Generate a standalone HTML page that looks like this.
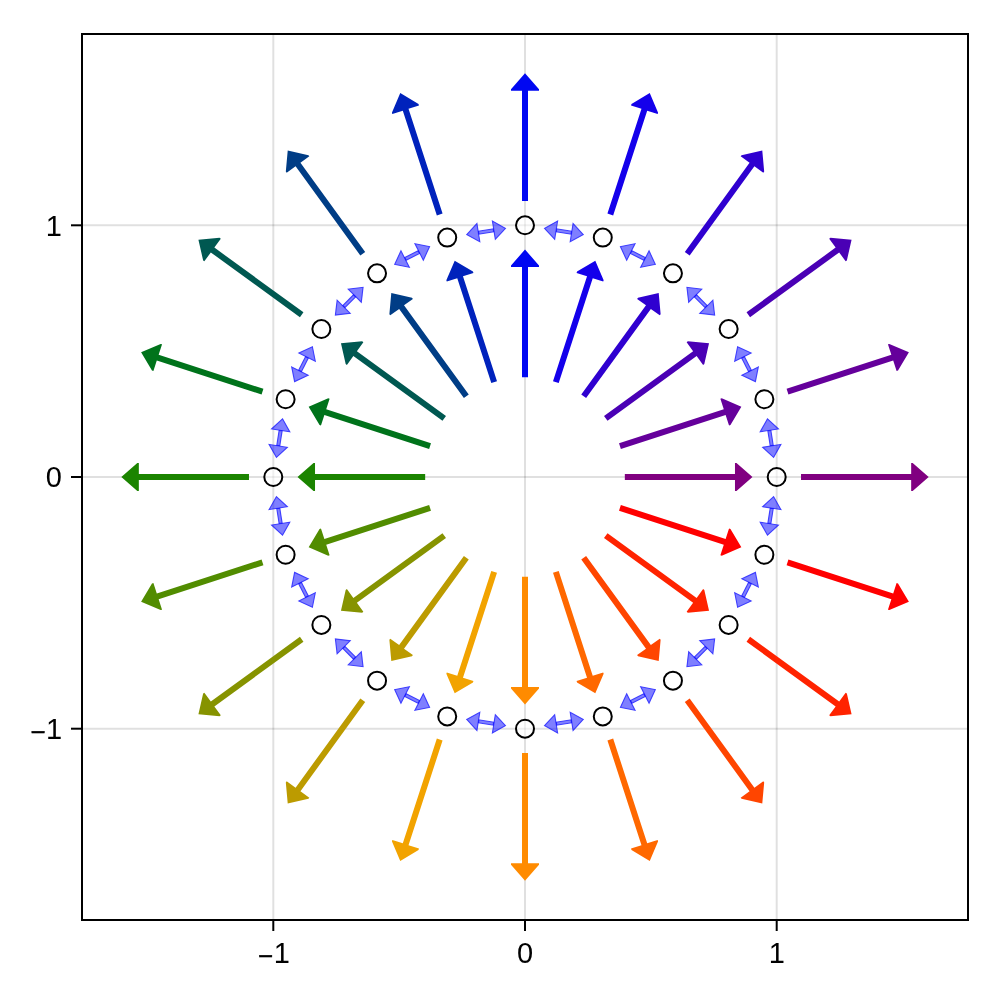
<!DOCTYPE html>
<html><head><meta charset="utf-8"><title>arrows</title>
<style>
html,body{margin:0;padding:0;background:#fff;}
body{width:1000px;height:1000px;overflow:hidden;}
svg{display:block;}
text{font-family:"Liberation Sans",sans-serif;font-size:29px;fill:#000;}
</style></head><body>
<svg width="1000" height="1000" viewBox="0 0 1000 1000">
<rect width="1000" height="1000" fill="#fff"/>
<line x1="273.30" y1="35" x2="273.30" y2="919" stroke="rgba(0,0,0,0.12)" stroke-width="2"/>
<line x1="525.00" y1="35" x2="525.00" y2="919" stroke="rgba(0,0,0,0.12)" stroke-width="2"/>
<line x1="776.70" y1="35" x2="776.70" y2="919" stroke="rgba(0,0,0,0.12)" stroke-width="2"/>
<line x1="83" y1="728.70" x2="967" y2="728.70" stroke="rgba(0,0,0,0.12)" stroke-width="2"/>
<line x1="83" y1="477.00" x2="967" y2="477.00" stroke="rgba(0,0,0,0.12)" stroke-width="2"/>
<line x1="83" y1="225.30" x2="967" y2="225.30" stroke="rgba(0,0,0,0.12)" stroke-width="2"/>
<polygon points="752.48,477.00 736.48,491.00 734.98,491.00 734.98,480.00 624.83,480.00 624.83,474.00 734.98,474.00 734.98,463.00 736.48,463.00" fill="rgb(128,0,128)"/>
<polygon points="741.35,406.70 730.46,424.96 729.03,425.43 725.63,414.97 620.87,449.00 619.02,443.30 723.78,409.26 720.38,398.80 721.80,398.33" fill="rgb(101,0,155)"/>
<polygon points="709.04,343.29 704.32,364.02 703.11,364.90 696.64,356.00 607.53,420.75 604.00,415.89 693.11,351.15 686.65,342.25 687.86,341.37" fill="rgb(74,0,181)"/>
<polygon points="658.71,292.96 660.63,314.14 659.75,315.35 650.85,308.89 586.11,398.00 581.25,394.47 646.00,305.36 637.10,298.89 637.98,297.68" fill="rgb(47,0,208)"/>
<polygon points="595.30,260.65 603.67,280.20 603.20,281.62 592.74,278.22 558.70,382.98 553.00,381.13 587.03,276.37 576.57,272.97 577.04,271.54" fill="rgb(20,0,235)"/>
<polygon points="525.00,249.52 539.00,265.52 539.00,267.02 528.00,267.02 528.00,377.17 522.00,377.17 522.00,267.02 511.00,267.02 511.00,265.52" fill="rgb(0,7,242)"/>
<polygon points="454.70,260.65 472.96,271.54 473.43,272.97 462.97,276.37 497.00,381.13 491.30,382.98 457.26,278.22 446.80,281.62 446.33,280.20" fill="rgb(0,34,188)"/>
<polygon points="391.29,292.96 412.02,297.68 412.90,298.89 404.00,305.36 468.75,394.47 463.89,398.00 399.15,308.89 390.25,315.35 389.37,314.14" fill="rgb(0,61,134)"/>
<polygon points="340.96,343.29 362.14,341.37 363.35,342.25 356.89,351.15 446.00,415.89 442.47,420.75 353.36,356.00 346.89,364.90 345.68,364.02" fill="rgb(0,88,81)"/>
<polygon points="308.65,406.70 328.20,398.33 329.62,398.80 326.22,409.26 430.98,443.30 429.13,449.00 324.37,414.97 320.97,425.43 319.54,424.96" fill="rgb(0,115,27)"/>
<polygon points="297.52,477.00 313.52,463.00 315.02,463.00 315.02,474.00 425.17,474.00 425.17,480.00 315.02,480.00 315.02,491.00 313.52,491.00" fill="rgb(27,132,0)"/>
<polygon points="308.65,547.30 319.54,529.04 320.97,528.57 324.37,539.03 429.13,505.00 430.98,510.70 326.22,544.74 329.62,555.20 328.20,555.67" fill="rgb(81,140,0)"/>
<polygon points="340.96,610.71 345.68,589.98 346.89,589.10 353.36,598.00 442.47,533.25 446.00,538.11 356.89,602.85 363.35,611.75 362.14,612.63" fill="rgb(134,147,0)"/>
<polygon points="391.29,661.04 389.37,639.86 390.25,638.65 399.15,645.11 463.89,556.00 468.75,559.53 404.00,648.64 412.90,655.11 412.02,656.32" fill="rgb(188,155,0)"/>
<polygon points="454.70,693.35 446.33,673.80 446.80,672.38 457.26,675.78 491.30,571.02 497.00,572.87 462.97,677.63 473.43,681.03 472.96,682.46" fill="rgb(242,163,0)"/>
<polygon points="525.00,704.48 511.00,688.48 511.00,686.98 522.00,686.98 522.00,576.83 528.00,576.83 528.00,686.98 539.00,686.98 539.00,688.48" fill="rgb(255,139,0)"/>
<polygon points="595.30,693.35 577.04,682.46 576.57,681.03 587.03,677.63 553.00,572.87 558.70,571.02 592.74,675.78 603.20,672.38 603.67,673.80" fill="rgb(255,104,0)"/>
<polygon points="658.71,661.04 637.98,656.32 637.10,655.11 646.00,648.64 581.25,559.53 586.11,556.00 650.85,645.11 659.75,638.65 660.63,639.86" fill="rgb(255,69,0)"/>
<polygon points="709.04,610.71 687.86,612.63 686.65,611.75 693.11,602.85 604.00,538.11 607.53,533.25 696.64,598.00 703.11,589.10 704.32,589.98" fill="rgb(255,35,0)"/>
<polygon points="741.35,547.30 721.80,555.67 720.38,555.20 723.78,544.74 619.02,510.70 620.87,505.00 725.63,539.03 729.03,528.57 730.46,529.04" fill="rgb(255,0,0)"/>
<polygon points="928.67,477.00 912.67,491.00 911.17,491.00 911.17,480.00 801.02,480.00 801.02,474.00 911.17,474.00 911.17,463.00 912.67,463.00" fill="rgb(128,0,128)"/>
<polygon points="908.91,352.26 898.02,370.52 896.60,370.98 893.20,360.52 788.44,394.56 786.58,388.85 891.34,354.81 887.94,344.35 889.37,343.89" fill="rgb(101,0,155)"/>
<polygon points="851.58,239.73 846.86,260.46 845.65,261.34 839.18,252.44 750.07,317.19 746.54,312.33 835.65,247.59 829.19,238.69 830.40,237.81" fill="rgb(74,0,181)"/>
<polygon points="762.27,150.42 764.19,171.60 763.31,172.81 754.41,166.35 689.67,255.46 684.81,251.93 749.56,162.82 740.66,156.35 741.54,155.14" fill="rgb(47,0,208)"/>
<polygon points="649.74,93.09 658.11,112.63 657.65,114.06 647.19,110.66 613.15,215.42 607.44,213.56 641.48,108.80 631.02,105.40 631.48,103.98" fill="rgb(20,0,235)"/>
<polygon points="525.00,73.33 539.00,89.33 539.00,90.83 528.00,90.83 528.00,200.98 522.00,200.98 522.00,90.83 511.00,90.83 511.00,89.33" fill="rgb(0,7,242)"/>
<polygon points="400.26,93.09 418.52,103.98 418.98,105.40 408.52,108.80 442.56,213.56 436.85,215.42 402.81,110.66 392.35,114.06 391.89,112.63" fill="rgb(0,34,188)"/>
<polygon points="287.73,150.42 308.46,155.14 309.34,156.35 300.44,162.82 365.19,251.93 360.33,255.46 295.59,166.35 286.69,172.81 285.81,171.60" fill="rgb(0,61,134)"/>
<polygon points="198.42,239.73 219.60,237.81 220.81,238.69 214.35,247.59 303.46,312.33 299.93,317.19 210.82,252.44 204.35,261.34 203.14,260.46" fill="rgb(0,88,81)"/>
<polygon points="141.09,352.26 160.63,343.89 162.06,344.35 158.66,354.81 263.42,388.85 261.56,394.56 156.80,360.52 153.40,370.98 151.98,370.52" fill="rgb(0,115,27)"/>
<polygon points="121.33,477.00 137.33,463.00 138.83,463.00 138.83,474.00 248.98,474.00 248.98,480.00 138.83,480.00 138.83,491.00 137.33,491.00" fill="rgb(27,132,0)"/>
<polygon points="141.09,601.74 151.98,583.48 153.40,583.02 156.80,593.48 261.56,559.44 263.42,565.15 158.66,599.19 162.06,609.65 160.63,610.11" fill="rgb(81,140,0)"/>
<polygon points="198.42,714.27 203.14,693.54 204.35,692.66 210.82,701.56 299.93,636.81 303.46,641.67 214.35,706.41 220.81,715.31 219.60,716.19" fill="rgb(134,147,0)"/>
<polygon points="287.73,803.58 285.81,782.40 286.69,781.19 295.59,787.65 360.33,698.54 365.19,702.07 300.44,791.18 309.34,797.65 308.46,798.86" fill="rgb(188,155,0)"/>
<polygon points="400.26,860.91 391.89,841.37 392.35,839.94 402.81,843.34 436.85,738.58 442.56,740.44 408.52,845.20 418.98,848.60 418.52,850.02" fill="rgb(242,163,0)"/>
<polygon points="525.00,880.67 511.00,864.67 511.00,863.17 522.00,863.17 522.00,753.02 528.00,753.02 528.00,863.17 539.00,863.17 539.00,864.67" fill="rgb(255,139,0)"/>
<polygon points="649.74,860.91 631.48,850.02 631.02,848.60 641.48,845.20 607.44,740.44 613.15,738.58 647.19,843.34 657.65,839.94 658.11,841.37" fill="rgb(255,104,0)"/>
<polygon points="762.27,803.58 741.54,798.86 740.66,797.65 749.56,791.18 684.81,702.07 689.67,698.54 754.41,787.65 763.31,781.19 764.19,782.40" fill="rgb(255,69,0)"/>
<polygon points="851.58,714.27 830.40,716.19 829.19,715.31 835.65,706.41 746.54,641.67 750.07,636.81 839.18,701.56 845.65,692.66 846.86,693.54" fill="rgb(255,35,0)"/>
<polygon points="908.91,601.74 889.37,610.11 887.94,609.65 891.34,599.19 786.58,565.15 788.44,559.44 893.20,593.48 896.60,583.02 898.02,583.48" fill="rgb(255,0,0)"/>
<defs><clipPath id="c1"><polygon points="773.75,458.35 781.95,443.68 761.41,446.93"/></clipPath><clipPath id="c2"><polygon points="773.86,445.67 771.37,429.89 767.22,430.55 769.72,446.33"/></clipPath><clipPath id="c3"><polygon points="767.34,417.88 779.67,429.29 759.13,432.54"/></clipPath><clipPath id="c4"><polygon points="755.81,382.39 759.08,365.91 740.55,375.35"/></clipPath><clipPath id="c5"><polygon points="752.00,370.30 744.75,356.07 741.01,357.97 748.26,372.21"/></clipPath><clipPath id="c6"><polygon points="737.20,345.88 752.46,352.92 733.93,362.37"/></clipPath><clipPath id="c7"><polygon points="715.27,315.70 713.29,299.01 698.59,313.72"/></clipPath><clipPath id="c8"><polygon points="707.92,305.38 696.62,294.08 693.65,297.05 704.95,308.35"/></clipPath><clipPath id="c9"><polygon points="686.30,286.73 702.99,288.71 688.28,303.41"/></clipPath><clipPath id="c10"><polygon points="656.12,264.80 649.08,249.54 639.63,268.07"/></clipPath><clipPath id="c11"><polygon points="645.93,257.25 631.70,250.00 629.79,253.74 644.03,260.99"/></clipPath><clipPath id="c12"><polygon points="619.61,246.19 636.09,242.92 626.65,261.45"/></clipPath><clipPath id="c13"><polygon points="584.12,234.66 572.71,222.33 569.46,242.87"/></clipPath><clipPath id="c14"><polygon points="572.11,230.63 556.33,228.14 555.67,232.28 571.45,234.78"/></clipPath><clipPath id="c15"><polygon points="543.65,228.25 558.32,220.05 555.07,240.59"/></clipPath><clipPath id="c16"><polygon points="506.35,228.25 491.68,220.05 494.93,240.59"/></clipPath><clipPath id="c17"><polygon points="493.67,228.14 477.89,230.63 478.55,234.78 494.33,232.28"/></clipPath><clipPath id="c18"><polygon points="465.88,234.66 477.29,222.33 480.54,242.87"/></clipPath><clipPath id="c19"><polygon points="430.39,246.19 413.91,242.92 423.35,261.45"/></clipPath><clipPath id="c20"><polygon points="418.30,250.00 404.07,257.25 405.97,260.99 420.21,253.74"/></clipPath><clipPath id="c21"><polygon points="393.88,264.80 400.92,249.54 410.37,268.07"/></clipPath><clipPath id="c22"><polygon points="363.70,286.73 347.01,288.71 361.72,303.41"/></clipPath><clipPath id="c23"><polygon points="353.38,294.08 342.08,305.38 345.05,308.35 356.35,297.05"/></clipPath><clipPath id="c24"><polygon points="334.73,315.70 336.71,299.01 351.41,313.72"/></clipPath><clipPath id="c25"><polygon points="312.80,345.88 297.54,352.92 316.07,362.37"/></clipPath><clipPath id="c26"><polygon points="305.25,356.07 298.00,370.30 301.74,372.21 308.99,357.97"/></clipPath><clipPath id="c27"><polygon points="294.19,382.39 290.92,365.91 309.45,375.35"/></clipPath><clipPath id="c28"><polygon points="282.66,417.88 270.33,429.29 290.87,432.54"/></clipPath><clipPath id="c29"><polygon points="278.63,429.89 276.14,445.67 280.28,446.33 282.78,430.55"/></clipPath><clipPath id="c30"><polygon points="276.25,458.35 268.05,443.68 288.59,446.93"/></clipPath><clipPath id="c31"><polygon points="276.25,495.65 268.05,510.32 288.59,507.07"/></clipPath><clipPath id="c32"><polygon points="276.14,508.33 278.63,524.11 282.78,523.45 280.28,507.67"/></clipPath><clipPath id="c33"><polygon points="282.66,536.12 270.33,524.71 290.87,521.46"/></clipPath><clipPath id="c34"><polygon points="294.19,571.61 290.92,588.09 309.45,578.65"/></clipPath><clipPath id="c35"><polygon points="298.00,583.70 305.25,597.93 308.99,596.03 301.74,581.79"/></clipPath><clipPath id="c36"><polygon points="312.80,608.12 297.54,601.08 316.07,591.63"/></clipPath><clipPath id="c37"><polygon points="334.73,638.30 336.71,654.99 351.41,640.28"/></clipPath><clipPath id="c38"><polygon points="342.08,648.62 353.38,659.92 356.35,656.95 345.05,645.65"/></clipPath><clipPath id="c39"><polygon points="363.70,667.27 347.01,665.29 361.72,650.59"/></clipPath><clipPath id="c40"><polygon points="393.88,689.20 400.92,704.46 410.37,685.93"/></clipPath><clipPath id="c41"><polygon points="404.07,696.75 418.30,704.00 420.21,700.26 405.97,693.01"/></clipPath><clipPath id="c42"><polygon points="430.39,707.81 413.91,711.08 423.35,692.55"/></clipPath><clipPath id="c43"><polygon points="465.88,719.34 477.29,731.67 480.54,711.13"/></clipPath><clipPath id="c44"><polygon points="477.89,723.37 493.67,725.86 494.33,721.72 478.55,719.22"/></clipPath><clipPath id="c45"><polygon points="506.35,725.75 491.68,733.95 494.93,713.41"/></clipPath><clipPath id="c46"><polygon points="543.65,725.75 558.32,733.95 555.07,713.41"/></clipPath><clipPath id="c47"><polygon points="556.33,725.86 572.11,723.37 571.45,719.22 555.67,721.72"/></clipPath><clipPath id="c48"><polygon points="584.12,719.34 572.71,731.67 569.46,711.13"/></clipPath><clipPath id="c49"><polygon points="619.61,707.81 636.09,711.08 626.65,692.55"/></clipPath><clipPath id="c50"><polygon points="631.70,704.00 645.93,696.75 644.03,693.01 629.79,700.26"/></clipPath><clipPath id="c51"><polygon points="656.12,689.20 649.08,704.46 639.63,685.93"/></clipPath><clipPath id="c52"><polygon points="686.30,667.27 702.99,665.29 688.28,650.59"/></clipPath><clipPath id="c53"><polygon points="696.62,659.92 707.92,648.62 704.95,645.65 693.65,656.95"/></clipPath><clipPath id="c54"><polygon points="715.27,638.30 713.29,654.99 698.59,640.28"/></clipPath><clipPath id="c55"><polygon points="737.20,608.12 752.46,601.08 733.93,591.63"/></clipPath><clipPath id="c56"><polygon points="744.75,597.93 752.00,583.70 748.26,581.79 741.01,596.03"/></clipPath><clipPath id="c57"><polygon points="755.81,571.61 759.08,588.09 740.55,578.65"/></clipPath><clipPath id="c58"><polygon points="767.34,536.12 779.67,524.71 759.13,521.46"/></clipPath><clipPath id="c59"><polygon points="771.37,524.11 773.86,508.33 769.72,507.67 767.22,523.45"/></clipPath><clipPath id="c60"><polygon points="773.75,495.65 781.95,510.32 761.41,507.07"/></clipPath></defs>
<polygon points="773.75,458.35 781.95,443.68 761.41,446.93" fill="rgba(0,0,255,0.5)" stroke="rgba(0,0,255,0.5)" stroke-width="2.3" clip-path="url(#c1)"/>
<polygon points="773.86,445.67 771.37,429.89 767.22,430.55 769.72,446.33" fill="rgba(0,0,255,0.5)" stroke="rgba(0,0,255,0.5)" stroke-width="2.3" clip-path="url(#c2)"/>
<polygon points="767.34,417.88 779.67,429.29 759.13,432.54" fill="rgba(0,0,255,0.5)" stroke="rgba(0,0,255,0.5)" stroke-width="2.3" clip-path="url(#c3)"/>
<polygon points="755.81,382.39 759.08,365.91 740.55,375.35" fill="rgba(0,0,255,0.5)" stroke="rgba(0,0,255,0.5)" stroke-width="2.3" clip-path="url(#c4)"/>
<polygon points="752.00,370.30 744.75,356.07 741.01,357.97 748.26,372.21" fill="rgba(0,0,255,0.5)" stroke="rgba(0,0,255,0.5)" stroke-width="2.3" clip-path="url(#c5)"/>
<polygon points="737.20,345.88 752.46,352.92 733.93,362.37" fill="rgba(0,0,255,0.5)" stroke="rgba(0,0,255,0.5)" stroke-width="2.3" clip-path="url(#c6)"/>
<polygon points="715.27,315.70 713.29,299.01 698.59,313.72" fill="rgba(0,0,255,0.5)" stroke="rgba(0,0,255,0.5)" stroke-width="2.3" clip-path="url(#c7)"/>
<polygon points="707.92,305.38 696.62,294.08 693.65,297.05 704.95,308.35" fill="rgba(0,0,255,0.5)" stroke="rgba(0,0,255,0.5)" stroke-width="2.3" clip-path="url(#c8)"/>
<polygon points="686.30,286.73 702.99,288.71 688.28,303.41" fill="rgba(0,0,255,0.5)" stroke="rgba(0,0,255,0.5)" stroke-width="2.3" clip-path="url(#c9)"/>
<polygon points="656.12,264.80 649.08,249.54 639.63,268.07" fill="rgba(0,0,255,0.5)" stroke="rgba(0,0,255,0.5)" stroke-width="2.3" clip-path="url(#c10)"/>
<polygon points="645.93,257.25 631.70,250.00 629.79,253.74 644.03,260.99" fill="rgba(0,0,255,0.5)" stroke="rgba(0,0,255,0.5)" stroke-width="2.3" clip-path="url(#c11)"/>
<polygon points="619.61,246.19 636.09,242.92 626.65,261.45" fill="rgba(0,0,255,0.5)" stroke="rgba(0,0,255,0.5)" stroke-width="2.3" clip-path="url(#c12)"/>
<polygon points="584.12,234.66 572.71,222.33 569.46,242.87" fill="rgba(0,0,255,0.5)" stroke="rgba(0,0,255,0.5)" stroke-width="2.3" clip-path="url(#c13)"/>
<polygon points="572.11,230.63 556.33,228.14 555.67,232.28 571.45,234.78" fill="rgba(0,0,255,0.5)" stroke="rgba(0,0,255,0.5)" stroke-width="2.3" clip-path="url(#c14)"/>
<polygon points="543.65,228.25 558.32,220.05 555.07,240.59" fill="rgba(0,0,255,0.5)" stroke="rgba(0,0,255,0.5)" stroke-width="2.3" clip-path="url(#c15)"/>
<polygon points="506.35,228.25 491.68,220.05 494.93,240.59" fill="rgba(0,0,255,0.5)" stroke="rgba(0,0,255,0.5)" stroke-width="2.3" clip-path="url(#c16)"/>
<polygon points="493.67,228.14 477.89,230.63 478.55,234.78 494.33,232.28" fill="rgba(0,0,255,0.5)" stroke="rgba(0,0,255,0.5)" stroke-width="2.3" clip-path="url(#c17)"/>
<polygon points="465.88,234.66 477.29,222.33 480.54,242.87" fill="rgba(0,0,255,0.5)" stroke="rgba(0,0,255,0.5)" stroke-width="2.3" clip-path="url(#c18)"/>
<polygon points="430.39,246.19 413.91,242.92 423.35,261.45" fill="rgba(0,0,255,0.5)" stroke="rgba(0,0,255,0.5)" stroke-width="2.3" clip-path="url(#c19)"/>
<polygon points="418.30,250.00 404.07,257.25 405.97,260.99 420.21,253.74" fill="rgba(0,0,255,0.5)" stroke="rgba(0,0,255,0.5)" stroke-width="2.3" clip-path="url(#c20)"/>
<polygon points="393.88,264.80 400.92,249.54 410.37,268.07" fill="rgba(0,0,255,0.5)" stroke="rgba(0,0,255,0.5)" stroke-width="2.3" clip-path="url(#c21)"/>
<polygon points="363.70,286.73 347.01,288.71 361.72,303.41" fill="rgba(0,0,255,0.5)" stroke="rgba(0,0,255,0.5)" stroke-width="2.3" clip-path="url(#c22)"/>
<polygon points="353.38,294.08 342.08,305.38 345.05,308.35 356.35,297.05" fill="rgba(0,0,255,0.5)" stroke="rgba(0,0,255,0.5)" stroke-width="2.3" clip-path="url(#c23)"/>
<polygon points="334.73,315.70 336.71,299.01 351.41,313.72" fill="rgba(0,0,255,0.5)" stroke="rgba(0,0,255,0.5)" stroke-width="2.3" clip-path="url(#c24)"/>
<polygon points="312.80,345.88 297.54,352.92 316.07,362.37" fill="rgba(0,0,255,0.5)" stroke="rgba(0,0,255,0.5)" stroke-width="2.3" clip-path="url(#c25)"/>
<polygon points="305.25,356.07 298.00,370.30 301.74,372.21 308.99,357.97" fill="rgba(0,0,255,0.5)" stroke="rgba(0,0,255,0.5)" stroke-width="2.3" clip-path="url(#c26)"/>
<polygon points="294.19,382.39 290.92,365.91 309.45,375.35" fill="rgba(0,0,255,0.5)" stroke="rgba(0,0,255,0.5)" stroke-width="2.3" clip-path="url(#c27)"/>
<polygon points="282.66,417.88 270.33,429.29 290.87,432.54" fill="rgba(0,0,255,0.5)" stroke="rgba(0,0,255,0.5)" stroke-width="2.3" clip-path="url(#c28)"/>
<polygon points="278.63,429.89 276.14,445.67 280.28,446.33 282.78,430.55" fill="rgba(0,0,255,0.5)" stroke="rgba(0,0,255,0.5)" stroke-width="2.3" clip-path="url(#c29)"/>
<polygon points="276.25,458.35 268.05,443.68 288.59,446.93" fill="rgba(0,0,255,0.5)" stroke="rgba(0,0,255,0.5)" stroke-width="2.3" clip-path="url(#c30)"/>
<polygon points="276.25,495.65 268.05,510.32 288.59,507.07" fill="rgba(0,0,255,0.5)" stroke="rgba(0,0,255,0.5)" stroke-width="2.3" clip-path="url(#c31)"/>
<polygon points="276.14,508.33 278.63,524.11 282.78,523.45 280.28,507.67" fill="rgba(0,0,255,0.5)" stroke="rgba(0,0,255,0.5)" stroke-width="2.3" clip-path="url(#c32)"/>
<polygon points="282.66,536.12 270.33,524.71 290.87,521.46" fill="rgba(0,0,255,0.5)" stroke="rgba(0,0,255,0.5)" stroke-width="2.3" clip-path="url(#c33)"/>
<polygon points="294.19,571.61 290.92,588.09 309.45,578.65" fill="rgba(0,0,255,0.5)" stroke="rgba(0,0,255,0.5)" stroke-width="2.3" clip-path="url(#c34)"/>
<polygon points="298.00,583.70 305.25,597.93 308.99,596.03 301.74,581.79" fill="rgba(0,0,255,0.5)" stroke="rgba(0,0,255,0.5)" stroke-width="2.3" clip-path="url(#c35)"/>
<polygon points="312.80,608.12 297.54,601.08 316.07,591.63" fill="rgba(0,0,255,0.5)" stroke="rgba(0,0,255,0.5)" stroke-width="2.3" clip-path="url(#c36)"/>
<polygon points="334.73,638.30 336.71,654.99 351.41,640.28" fill="rgba(0,0,255,0.5)" stroke="rgba(0,0,255,0.5)" stroke-width="2.3" clip-path="url(#c37)"/>
<polygon points="342.08,648.62 353.38,659.92 356.35,656.95 345.05,645.65" fill="rgba(0,0,255,0.5)" stroke="rgba(0,0,255,0.5)" stroke-width="2.3" clip-path="url(#c38)"/>
<polygon points="363.70,667.27 347.01,665.29 361.72,650.59" fill="rgba(0,0,255,0.5)" stroke="rgba(0,0,255,0.5)" stroke-width="2.3" clip-path="url(#c39)"/>
<polygon points="393.88,689.20 400.92,704.46 410.37,685.93" fill="rgba(0,0,255,0.5)" stroke="rgba(0,0,255,0.5)" stroke-width="2.3" clip-path="url(#c40)"/>
<polygon points="404.07,696.75 418.30,704.00 420.21,700.26 405.97,693.01" fill="rgba(0,0,255,0.5)" stroke="rgba(0,0,255,0.5)" stroke-width="2.3" clip-path="url(#c41)"/>
<polygon points="430.39,707.81 413.91,711.08 423.35,692.55" fill="rgba(0,0,255,0.5)" stroke="rgba(0,0,255,0.5)" stroke-width="2.3" clip-path="url(#c42)"/>
<polygon points="465.88,719.34 477.29,731.67 480.54,711.13" fill="rgba(0,0,255,0.5)" stroke="rgba(0,0,255,0.5)" stroke-width="2.3" clip-path="url(#c43)"/>
<polygon points="477.89,723.37 493.67,725.86 494.33,721.72 478.55,719.22" fill="rgba(0,0,255,0.5)" stroke="rgba(0,0,255,0.5)" stroke-width="2.3" clip-path="url(#c44)"/>
<polygon points="506.35,725.75 491.68,733.95 494.93,713.41" fill="rgba(0,0,255,0.5)" stroke="rgba(0,0,255,0.5)" stroke-width="2.3" clip-path="url(#c45)"/>
<polygon points="543.65,725.75 558.32,733.95 555.07,713.41" fill="rgba(0,0,255,0.5)" stroke="rgba(0,0,255,0.5)" stroke-width="2.3" clip-path="url(#c46)"/>
<polygon points="556.33,725.86 572.11,723.37 571.45,719.22 555.67,721.72" fill="rgba(0,0,255,0.5)" stroke="rgba(0,0,255,0.5)" stroke-width="2.3" clip-path="url(#c47)"/>
<polygon points="584.12,719.34 572.71,731.67 569.46,711.13" fill="rgba(0,0,255,0.5)" stroke="rgba(0,0,255,0.5)" stroke-width="2.3" clip-path="url(#c48)"/>
<polygon points="619.61,707.81 636.09,711.08 626.65,692.55" fill="rgba(0,0,255,0.5)" stroke="rgba(0,0,255,0.5)" stroke-width="2.3" clip-path="url(#c49)"/>
<polygon points="631.70,704.00 645.93,696.75 644.03,693.01 629.79,700.26" fill="rgba(0,0,255,0.5)" stroke="rgba(0,0,255,0.5)" stroke-width="2.3" clip-path="url(#c50)"/>
<polygon points="656.12,689.20 649.08,704.46 639.63,685.93" fill="rgba(0,0,255,0.5)" stroke="rgba(0,0,255,0.5)" stroke-width="2.3" clip-path="url(#c51)"/>
<polygon points="686.30,667.27 702.99,665.29 688.28,650.59" fill="rgba(0,0,255,0.5)" stroke="rgba(0,0,255,0.5)" stroke-width="2.3" clip-path="url(#c52)"/>
<polygon points="696.62,659.92 707.92,648.62 704.95,645.65 693.65,656.95" fill="rgba(0,0,255,0.5)" stroke="rgba(0,0,255,0.5)" stroke-width="2.3" clip-path="url(#c53)"/>
<polygon points="715.27,638.30 713.29,654.99 698.59,640.28" fill="rgba(0,0,255,0.5)" stroke="rgba(0,0,255,0.5)" stroke-width="2.3" clip-path="url(#c54)"/>
<polygon points="737.20,608.12 752.46,601.08 733.93,591.63" fill="rgba(0,0,255,0.5)" stroke="rgba(0,0,255,0.5)" stroke-width="2.3" clip-path="url(#c55)"/>
<polygon points="744.75,597.93 752.00,583.70 748.26,581.79 741.01,596.03" fill="rgba(0,0,255,0.5)" stroke="rgba(0,0,255,0.5)" stroke-width="2.3" clip-path="url(#c56)"/>
<polygon points="755.81,571.61 759.08,588.09 740.55,578.65" fill="rgba(0,0,255,0.5)" stroke="rgba(0,0,255,0.5)" stroke-width="2.3" clip-path="url(#c57)"/>
<polygon points="767.34,536.12 779.67,524.71 759.13,521.46" fill="rgba(0,0,255,0.5)" stroke="rgba(0,0,255,0.5)" stroke-width="2.3" clip-path="url(#c58)"/>
<polygon points="771.37,524.11 773.86,508.33 769.72,507.67 767.22,523.45" fill="rgba(0,0,255,0.5)" stroke="rgba(0,0,255,0.5)" stroke-width="2.3" clip-path="url(#c59)"/>
<polygon points="773.75,495.65 781.95,510.32 761.41,507.07" fill="rgba(0,0,255,0.5)" stroke="rgba(0,0,255,0.5)" stroke-width="2.3" clip-path="url(#c60)"/>
<circle cx="776.70" cy="477.00" r="9" fill="rgba(255,255,255,0.5)" stroke="#000" stroke-width="2"/>
<circle cx="764.38" cy="399.22" r="9" fill="rgba(255,255,255,0.5)" stroke="#000" stroke-width="2"/>
<circle cx="728.63" cy="329.05" r="9" fill="rgba(255,255,255,0.5)" stroke="#000" stroke-width="2"/>
<circle cx="672.95" cy="273.37" r="9" fill="rgba(255,255,255,0.5)" stroke="#000" stroke-width="2"/>
<circle cx="602.78" cy="237.62" r="9" fill="rgba(255,255,255,0.5)" stroke="#000" stroke-width="2"/>
<circle cx="525.00" cy="225.30" r="9" fill="rgba(255,255,255,0.5)" stroke="#000" stroke-width="2"/>
<circle cx="447.22" cy="237.62" r="9" fill="rgba(255,255,255,0.5)" stroke="#000" stroke-width="2"/>
<circle cx="377.05" cy="273.37" r="9" fill="rgba(255,255,255,0.5)" stroke="#000" stroke-width="2"/>
<circle cx="321.37" cy="329.05" r="9" fill="rgba(255,255,255,0.5)" stroke="#000" stroke-width="2"/>
<circle cx="285.62" cy="399.22" r="9" fill="rgba(255,255,255,0.5)" stroke="#000" stroke-width="2"/>
<circle cx="273.30" cy="477.00" r="9" fill="rgba(255,255,255,0.5)" stroke="#000" stroke-width="2"/>
<circle cx="285.62" cy="554.78" r="9" fill="rgba(255,255,255,0.5)" stroke="#000" stroke-width="2"/>
<circle cx="321.37" cy="624.95" r="9" fill="rgba(255,255,255,0.5)" stroke="#000" stroke-width="2"/>
<circle cx="377.05" cy="680.63" r="9" fill="rgba(255,255,255,0.5)" stroke="#000" stroke-width="2"/>
<circle cx="447.22" cy="716.38" r="9" fill="rgba(255,255,255,0.5)" stroke="#000" stroke-width="2"/>
<circle cx="525.00" cy="728.70" r="9" fill="rgba(255,255,255,0.5)" stroke="#000" stroke-width="2"/>
<circle cx="602.78" cy="716.38" r="9" fill="rgba(255,255,255,0.5)" stroke="#000" stroke-width="2"/>
<circle cx="672.95" cy="680.63" r="9" fill="rgba(255,255,255,0.5)" stroke="#000" stroke-width="2"/>
<circle cx="728.63" cy="624.95" r="9" fill="rgba(255,255,255,0.5)" stroke="#000" stroke-width="2"/>
<circle cx="764.38" cy="554.78" r="9" fill="rgba(255,255,255,0.5)" stroke="#000" stroke-width="2"/>
<rect x="82" y="34" width="886" height="886" fill="none" stroke="#000" stroke-width="2"/>
<line x1="273.30" y1="921" x2="273.30" y2="931" stroke="#000" stroke-width="2"/>
<line x1="71" y1="728.70" x2="81" y2="728.70" stroke="#000" stroke-width="2"/>
<line x1="525.00" y1="921" x2="525.00" y2="931" stroke="#000" stroke-width="2"/>
<line x1="71" y1="477.00" x2="81" y2="477.00" stroke="#000" stroke-width="2"/>
<line x1="776.70" y1="921" x2="776.70" y2="931" stroke="#000" stroke-width="2"/>
<line x1="71" y1="225.30" x2="81" y2="225.30" stroke="#000" stroke-width="2"/>
<text><tspan x="257.9" y="964.6" font-size="26" stroke="#000" stroke-width="0.4">−</tspan><tspan x="273.7" y="962.6">1</tspan></text>
<text><tspan x="30.6" y="740.90" font-size="26" stroke="#000" stroke-width="0.4">−</tspan><tspan x="45.9" y="738.90">1</tspan></text>
<text x="525.00" y="962.6" text-anchor="middle">0</text>
<text x="62" y="487.20" text-anchor="end">0</text>
<text x="776.70" y="962.6" text-anchor="middle">1</text>
<text x="62" y="235.50" text-anchor="end">1</text>
</svg>
</body></html>
